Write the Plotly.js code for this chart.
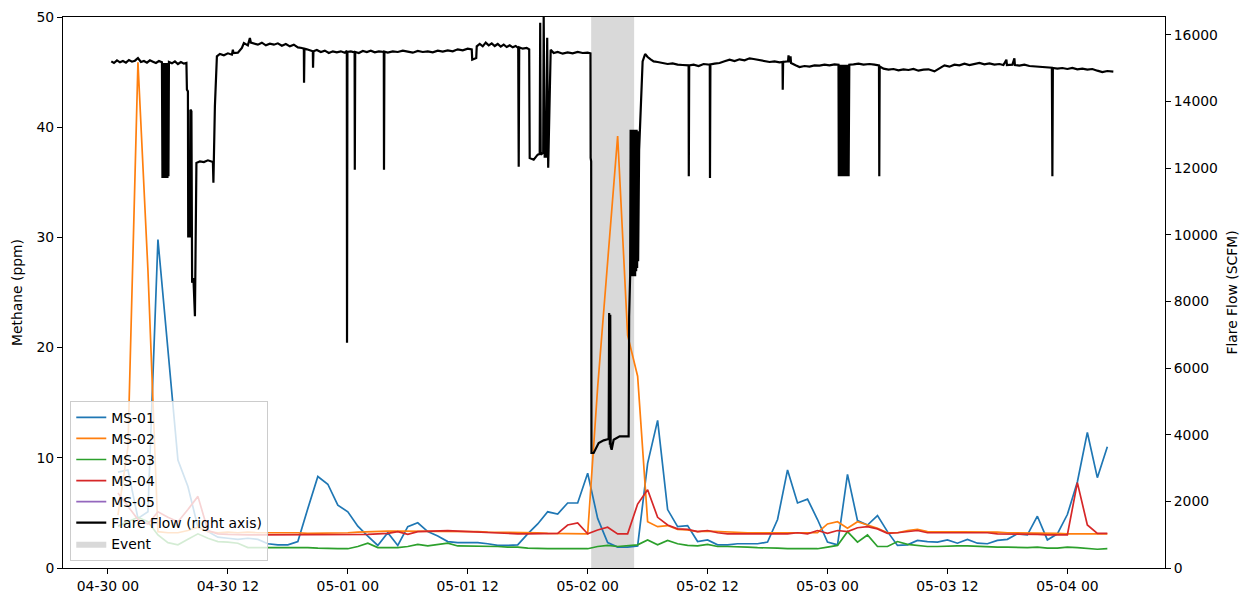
<!DOCTYPE html>
<html>
<head>
<meta charset="utf-8">
<script src="https://cdn.plot.ly/plotly-3.0.1.min.js"></script>
<style>html,body{margin:0;padding:0;background:#fff}#chart{width:1240px;height:595px}</style>
</head>
<body>
<div id="chart"></div>
<script>
// ---- DATA ----
const startDate = '2024-04-30 00:00:00';
// hourly methane readings, starting 04-30 01:00
const ms01 = [8.7,8.9,4.5,5.1,29.8,19.5,9.8,7.4,3.7,3.3,2.8,2.7,2.6,2.7,2.6,2.2,2.1,2.1,2.4,5.4,
  8.3,7.6,5.7,5.1,3.8,2.9,2.05,3.2,2.05,3.75,4.1,3.3,2.9,2.4,2.3,2.3,2.3,2.2,2.05,2.05,
  2.1,3.1,4.0,5.1,4.9,5.9,5.9,8.6,4.5,2.3,1.9,1.9,2.0,9.5,13.4,5.3,3.75,3.85,2.4,2.55,
  2.1,2.1,2.2,2.2,2.2,2.35,4.4,8.9,5.9,6.25,4.4,2.35,2.1,8.5,4.3,3.9,4.75,3.3,2.05,2.1,
  2.5,2.4,2.35,2.55,2.25,2.6,2.25,2.2,2.5,2.6,3.1,3.0,4.7,2.55,3.1,4.85,7.8,12.3,8.2,11.0];
const ms02 = [4.8,11,45.9,27,3.3,3.2,3.2,3.4,3.7,3.3,3.2,3.25,3.2,3.25,3.2,3.2,3.25,3.2,3.2,3.15,
  3.15,3.2,3.2,3.2,3.25,3.3,3.3,3.35,3.35,3.35,3.35,3.35,3.3,3.3,3.3,3.3,3.3,3.25,3.25,3.25,
  3.2,3.2,3.2,3.15,3.15,3.15,3.15,3.1,16.4,28.2,39.2,21.1,17.4,4.2,3.75,3.85,3.5,3.45,3.3,3.35,
  3.3,3.25,3.25,3.2,3.2,3.2,3.15,3.15,3.15,3.2,3.2,4.0,4.2,3.6,4.2,3.9,3.6,3.2,3.2,3.4,
  3.5,3.3,3.3,3.3,3.3,3.3,3.3,3.3,3.25,3.2,3.2,3.15,3.15,3.15,3.15,3.1,3.1,3.1,3.1,3.1];
const ms03 = [3.8,4.2,4.6,4.2,3.0,2.3,2.1,2.6,3.1,2.7,2.4,2.35,2.25,1.85,1.85,1.85,1.85,1.9,1.85,1.85,
  1.8,1.75,1.75,1.75,1.95,2.25,1.85,1.85,1.85,1.95,2.15,2.0,2.1,2.25,2.0,2.0,2.0,1.95,1.95,1.9,
  1.9,1.8,1.75,1.75,1.75,1.75,1.75,1.75,1.95,2.05,1.95,2.0,2.1,2.55,2.1,2.5,2.2,2.05,2.0,2.15,
  1.95,1.95,1.95,1.9,1.85,1.85,1.8,1.75,1.75,1.75,1.75,1.9,2.05,3.3,2.35,3.0,1.95,1.95,2.4,2.15,
  2.05,1.95,1.95,2.0,2.0,2.0,1.95,1.95,1.9,1.9,1.85,1.85,1.9,1.8,1.8,1.9,1.85,1.75,1.7,1.75];
const ms04 = [6.8,5.6,4.4,4.0,5.1,4.6,4.2,5.3,6.5,3.4,3.1,3.05,3.0,3.0,3.0,3.0,3.0,3.0,3.0,3.0,
  3.05,3.0,3.0,3.0,3.05,3.05,3.1,3.15,3.3,3.05,3.3,3.35,3.4,3.4,3.35,3.3,3.25,3.2,3.15,3.15,
  3.1,3.1,3.1,3.1,3.15,3.9,4.1,3.1,3.45,3.7,3.1,3.1,5.8,7.1,4.6,3.9,3.55,3.5,3.3,3.4,
  3.2,3.1,3.1,3.1,3.1,3.1,3.1,3.1,3.2,3.1,3.4,3.15,3.4,3.3,3.65,3.75,3.55,3.15,3.2,3.3,
  3.4,3.2,3.2,3.2,3.2,3.2,3.2,3.2,3.1,3.1,3.05,3.05,3.05,3.0,3.0,3.0,7.75,3.9,3.15,3.15];
const ms05 = new Array(100).fill(null); // no readings

// flare flow: hours after 04-30 00:00, SCFM
const flareHours = [0.33,0.6,0.9,1.2,1.5,1.8,2.1,2.4,2.7,3.0,3.3,3.6,3.9,4.2,4.5,4.8,5.1,5.4,
  5.45,5.5,5.55,5.6,5.65,5.7,5.75,5.8,5.85,5.9,5.95,6.0,6.05,6.1,6.4,6.7,7.0,7.3,7.6,7.85,
  7.9,8.0,8.03,8.2,8.25,8.35,8.42,8.55,8.7,8.85,9.2,9.6,10.0,10.4,10.5,10.55,10.6,10.7,10.9,
  11.2,11.6,12.0,12.4,12.5,12.55,13.0,13.4,13.6,14.0,14.2,14.3,14.7,15.0,15.4,15.8,16.2,16.6,17.0,17.4,17.8,18.2,18.6,19.0,19.4,
  19.6,19.62,19.66,19.9,20.3,20.5,20.52,20.56,20.9,21.3,21.7,22.1,22.5,22.9,23.3,23.7,23.9,23.92,23.96,
  24.3,24.68,24.7,24.74,25.1,25.5,25.9,26.3,26.7,27.1,27.6,27.62,27.66,28.0,28.5,29,29.5,30,30.5,31,31.5,
  32,32.5,33,33.5,34,34.5,35,35.5,36,36.4,36.45,36.85,36.9,37.2,37.5,37.8,38.1,38.4,38.7,39.0,39.3,39.6,39.9,
  40.2,40.5,40.8,41.05,41.1,41.15,41.5,41.9,42.15,42.2,42.6,43.0,43.2,43.25,43.3,43.55,43.6,43.7,43.85,43.95,44.05,
  44.3,44.6,45,45.5,46,46.5,47,47.5,48,48.28,48.3,48.35,48.38,48.6,49.1,49.6,50.1,50.15,50.22,50.26,50.3,50.4,
  50.6,51.2,51.8,52.1,52.15,52.25,52.3,52.35,52.4,52.45,52.5,52.55,52.6,52.65,52.7,52.75,52.8,52.85,52.9,52.95,53.0,53.05,
  53.15,53.5,53.75,54.0,54.3,54.6,55,55.5,56,56.5,57,57.5,58.0,58.1,58.12,58.16,58.6,59.1,59.6,60.1,60.22,60.24,60.28,
  60.7,61.2,61.7,62.2,62.7,63.2,63.7,64.2,64.6,65.1,65.6,65.9,66.2,66.7,67.2,67.5,67.52,67.56,68.05,68.1,68.15,68.25,68.3,68.35,
  68.8,69.2,69.7,70.2,70.7,71.2,71.7,72.2,72.7,73.1,73.13,73.2,73.27,73.34,73.41,73.48,73.55,73.62,73.69,73.76,73.83,73.9,
  73.97,74.04,74.11,74.18,74.6,75.1,75.6,76.2,76.7,77.15,77.18,77.22,77.6,78.1,78.6,79.1,79.6,80.1,80.6,81.1,81.6,82.1,
  82.7,83.2,83.7,84.2,84.7,85.2,85.7,86.2,86.7,87.2,87.7,88.2,88.7,89.2,89.6,89.9,89.95,90.5,90.7,90.75,91.2,91.7,92.2,
  92.7,93.2,93.7,94.2,94.45,94.5,94.55,95,95.5,96,96.5,97,97.5,98,98.5,99,99.5,100,100.6];
const flareValues = [15200,15150,15230,15170,15210,15160,15240,15190,15220,15300,15180,15210,15160,15230,15190,15150,15210,15170,
  11700,15150,11700,15150,11700,15150,11700,15150,11700,15150,11700,15150,11750,15180,15140,15200,15120,15180,15130,15150,
  14350,14300,9950,9950,13750,13700,8560,8700,7550,12150,12200,12180,12230,12200,12180,11560,12200,13850,15350,
  15420,15380,15440,15400,15550,15450,15460,15600,15750,15680,15900,15760,15720,15700,15760,15680,15730,15700,15740,15670,15720,15650,15700,15620,15600,
  15580,14560,15580,15560,15520,15500,15010,15500,15540,15480,15520,15450,15500,15470,15500,15460,15520,6760,15480,
  15500,15470,11950,15480,15450,15510,15480,15520,15470,15500,15480,11950,15490,15460,15500,15480,15520,15490,15460,15510,15480,
  15500,15470,15520,15490,15530,15500,15560,15530,15580,15560,15250,15300,15650,15720,15650,15760,15680,15740,15660,15720,15640,15700,15630,
  15680,15620,15660,15600,12040,15620,15580,15600,15560,12300,12250,12400,12420,16360,12400,12450,16530,12340,12340,15910,12010,
  15550,15450,15480,15430,15470,15440,15480,15450,15460,15440,12300,12200,3450,3450,3750,3830,3870,7650,3700,7600,3650,3550,
  3850,3950,3950,3950,7550,8750,13150,8750,13100,8800,13150,8750,13000,8800,13150,8750,13100,8900,13150,9000,13100,9200,
  12550,15200,15420,15330,15260,15200,15180,15150,15120,15140,15100,15090,15070,15080,11750,15080,15100,15060,15120,15100,15100,11700,15110,
  15130,15150,15200,15250,15210,15260,15230,15290,15270,15240,15220,15200,15180,15200,15170,15180,14350,15180,15200,15380,15200,15200,15350,15150,
  15080,15030,15060,15040,15080,15070,15100,15080,15110,15100,11750,15100,11750,15100,11750,15100,11750,15100,11750,15100,11750,15100,
  11750,15100,11750,15100,15110,15130,15100,15120,15100,15080,11750,15050,14980,14950,14970,14930,14960,14940,14970,14920,14950,14960,
  14900,14990,15080,15040,15100,15080,15130,15090,15120,15150,15110,15140,15100,15120,15090,15250,15090,15100,15290,15090,15070,15100,15060,
  15050,15040,15020,15000,15010,11750,15000,14980,15000,14970,15000,14960,14980,14950,14970,14920,14880,14910,14890];

const eventStartHour = 48.35, eventEndHour = 52.65;
const seriesNames = ['MS-01','MS-02','MS-03','MS-04','MS-05'];
const seriesColors = ['#1f77b4','#ff7f0e','#2ca02c','#d62728','#9467bd'];

// ---- helpers ----
const base = Date.UTC(2024,3,30,0,0,0);
function hoursToStr(h){
  const d = new Date(base + Math.round(h*3600000));
  return d.toISOString().slice(0,19).replace('T',' ');
}
const methaneTimes = ms01.map((_, i) => hoursToStr(i + 1));
const flareTimes = flareHours.map(hoursToStr);
const t0 = hoursToStr(eventStartHour), t1 = hoursToStr(eventEndHour);

const FONT = 'DejaVu Sans, Arial, sans-serif';
const FS = 13.9;

const traces = [];
traces.push({
  type:'scatter', mode:'lines', name:'Event',
  x:[t0,t0,t1,t1,t0], y:[0,50,50,0,0],
  fill:'toself', fillcolor:'rgba(128,128,128,0.3)', line:{width:0, color:'rgba(128,128,128,0.3)'},
  hoverinfo:'skip', legendrank:2000, xaxis:'x', yaxis:'y'
});
[ms01, ms02, ms03, ms04, ms05].forEach((vals, i) => {
  traces.push({
    type:'scatter', mode:'lines', name:seriesNames[i],
    x:methaneTimes, y:vals, line:{color:seriesColors[i], width:1.7},
    connectgaps:false, xaxis:'x', yaxis:'y'
  });
});
traces.push({
  type:'scatter', mode:'lines', name:'Flare Flow (right axis)',
  x:flareTimes, y:flareValues, line:{color:'#000000', width:2.2},
  xaxis:'x', yaxis:'y2'
});

const axisCommon = {
  ticks:'outside', ticklen:5, tickwidth:1, tickcolor:'#000',
  showline:true, linecolor:'#000', linewidth:1,
  showgrid:false, zeroline:false, automargin:false,
  tickfont:{family:FONT, size:FS, color:'#000'}
};

const layout = {
  width:1240, height:595,
  margin:{l:63, r:75, t:17, b:27, pad:0},
  paper_bgcolor:'#fff', plot_bgcolor:'#fff',
  font:{family:FONT, size:FS, color:'#000'},
  showlegend:true,
  legend:{
    x:0.0066, y:0.013, xanchor:'left', yanchor:'bottom',
    bgcolor:'rgba(255,255,255,0.8)', bordercolor:'#cccccc', borderwidth:1,
    font:{family:FONT, size:FS, color:'#000'}, tracegroupgap:0, itemwidth:30
  },
  xaxis: Object.assign({}, axisCommon, {
    type:'date', range:[hoursToStr(-4.5), hoursToStr(105.77)],
    tick0:startDate, dtick:12*3600000, tickformat:'%m-%d %H', mirror:true
  }),
  yaxis: Object.assign({}, axisCommon, {
    range:[0,50], dtick:10, tick0:0,
    title:{text:'Methane (ppm)', font:{family:FONT, size:FS, color:'#000'}, standoff:10}
  }),
  yaxis2: Object.assign({}, axisCommon, {
    overlaying:'y', side:'right', range:[0,16530], dtick:2000, tick0:0, tickformat:'d',
    title:{text:'Flare Flow (SCFM)', font:{family:FONT, size:FS, color:'#000'}, standoff:10}
  })
};

Plotly.newPlot('chart', traces, layout, {displayModeBar:false, staticPlot:true});
</script>
</body>
</html>
